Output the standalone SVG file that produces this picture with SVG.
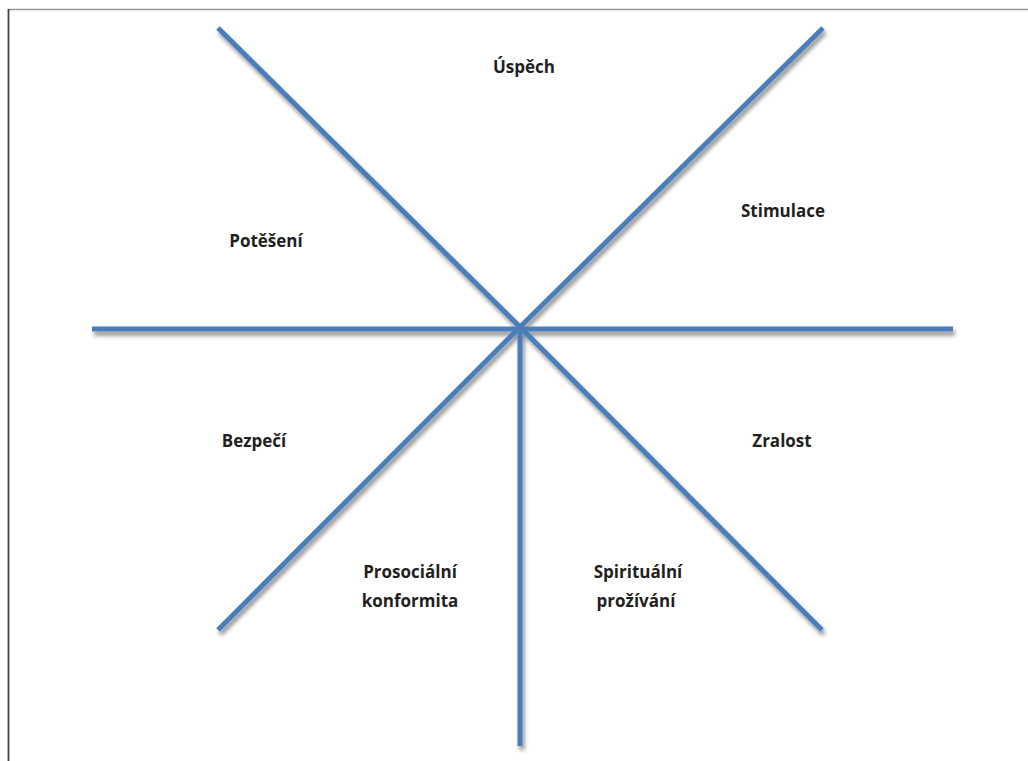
<svg xmlns="http://www.w3.org/2000/svg" width="1028" height="761" viewBox="0 0 1028 761">
<style>
.ax{stroke:#4a7ebb;stroke-width:5;stroke-linecap:butt;fill:none}
.lb{font-family:"Open Sans","Liberation Sans",sans-serif;font-weight:bold;font-size:17px;fill:#231f20;text-anchor:middle}
</style>
<defs>
<filter id="sh" x="-10%" y="-10%" width="120%" height="120%">
<feDropShadow dx="2" dy="4" stdDeviation="2" flood-color="#000" flood-opacity="0.45"/>
</filter>
</defs>
<rect width="1028" height="761" fill="#fff"/>
<g id="frame">
<line x1="8" y1="9.5" x2="1028" y2="9.5" stroke="#999" stroke-width="1.5"/>
<line x1="8.5" y1="9" x2="8.5" y2="761" stroke="#444" stroke-width="1.8"/>
</g>
<g id="connectors" filter="url(#sh)">
<line class="ax" x1="92" y1="329" x2="953" y2="329"/>
<line class="ax" x1="218" y1="28" x2="520" y2="327"/>
<line class="ax" x1="823" y1="28" x2="520" y2="327"/>
<line class="ax" x1="520" y1="327" x2="218" y2="630"/>
<line class="ax" x1="520" y1="327" x2="822" y2="630"/>
<line class="ax" x1="520" y1="331" x2="520" y2="746"/>
</g>
<g id="n-uspech"><text class="lb" x="524" y="73">Úspěch</text></g>
<g id="n-poteseni"><text class="lb" x="266" y="247">Potěšení</text></g>
<g id="n-stimulace"><text class="lb" x="783" y="217">Stimulace</text></g>
<g id="n-bezpeci"><text class="lb" x="254" y="447">Bezpečí</text></g>
<g id="n-zralost"><text class="lb" x="782" y="447">Zralost</text></g>
<g id="n-prosocialni"><text class="lb" x="410" y="578">Prosociální</text><text class="lb" x="410" y="607">konformita</text></g>
<g id="n-spiritualni"><text class="lb" x="638" y="578">Spirituální</text><text class="lb" x="636" y="607">prožívání</text></g>
</svg>
